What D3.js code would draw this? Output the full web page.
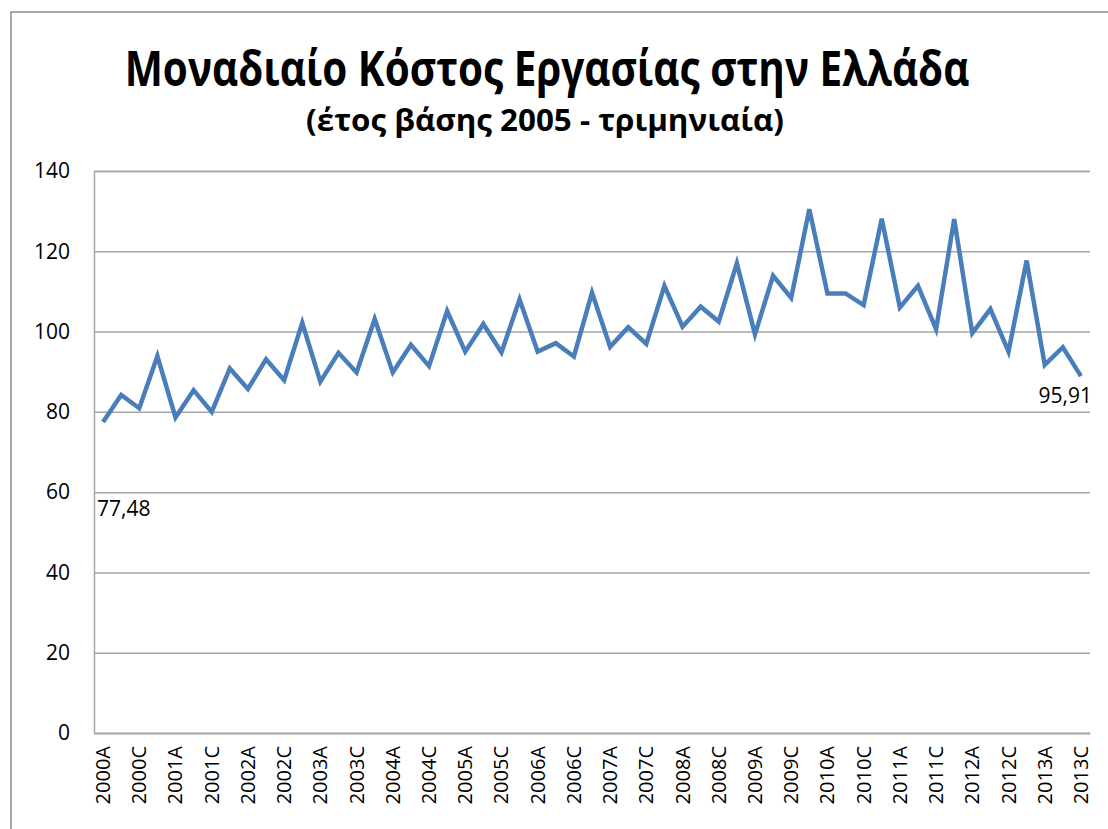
<!DOCTYPE html>
<html><head><meta charset="UTF-8"><title>Μοναδιαίο Κόστος Εργασίας</title>
<script src="https://cdn.jsdelivr.net/npm/d3@7"></script>
<style>
	body	{ margin:0; background:#fff; }
	svg	{ display:block; font-family:"Open Sans","Noto Sans",sans-serif; }
	.grid line { stroke:#a6a6a6; stroke-width:1.5; }
	.tick text { fill:#000; }
</style>
</head><body>
<svg width="1108" height="829"></svg>
<script>
// quarters 2000A .. 2013C (A,B,C,D)
var years=d3.range(2000,2014), quarters=['A','B','C','D'];
var categories=[];
years.forEach(function(y){ quarters.forEach(function(q){ categories.push(y+q); }); });
categories=categories.slice(0,55);
// index values
var values=[77.48,84.2,80.9,93.9,78.6,85.4,80.0,90.8,85.7,93.1,
	87.9,102.2,87.5,94.7,89.8,103.1,89.8,96.7,91.4,105.1,
	95.0,101.9,94.8,108.0,95.0,97.1,93.8,109.7,96.2,101.1,
	96.9,111.4,101.2,106.2,102.5,117.0,99.3,113.9,108.4,130.5,
	109.5,109.5,106.6,128.1,106.0,111.4,100.6,128.0,99.6,105.6,
	95.0,117.7,91.7,96.1,88.9];
var yTicks=[0,20,40,60,80,100,120,140];
var firstLabel='77,48', lastLabel='95,91';
var title='Μοναδιαίο Κόστος Εργασίας στην Ελλάδα';
var subtitle='(έτος βάσης 2005 - τριμηνιαία)';

var svg=d3.select('svg');
// chart frame
svg.append('rect').attr('x',11).attr('y',12).attr('width',1120).attr('height',840)
	.attr('fill','none').attr('stroke','#8c8c8c').attr('stroke-width',1.5);

var x=d3.scaleBand().domain(categories).range([94,1090]).padding(0);
var y=d3.scaleLinear().domain([0,140]).range([733,171]);
var cx=function(c){ return x(c)+x.bandwidth()/2; };

// horizontal grid + y labels
var ya=svg.append('g').attr('class','grid').attr('transform','translate(94,0)')
	.call(d3.axisLeft(y).tickValues(yTicks).tickSize(-996).tickPadding(24).tickFormat(d3.format('d')))
	.attr('font-family',null).attr('font-size',null);
ya.select('.domain').attr('stroke','#a6a6a6').attr('stroke-width',1.5);
ya.selectAll('text').attr('font-size',21);

// x axis, every second quarter labelled
var xa=svg.append('g').attr('transform','translate(0,733)')
	.call(d3.axisBottom(x).tickValues(categories.filter(function(d,i){return i%2==0;})).tickSize(0))
	.attr('font-family',null).attr('font-size',null);
xa.select('.domain').attr('stroke','#a6a6a6').attr('stroke-width',1.5);
xa.selectAll('text').attr('font-size',20).attr('transform','rotate(-90)')
	.attr('text-anchor','end').attr('dy','0.35em').attr('x',-13).attr('y',0);

// line
var line=d3.line().x(function(d,i){return cx(categories[i]);}).y(function(d){return y(d);});
svg.append('path').datum(values).attr('d',line).attr('fill','none')
	.attr('stroke','#4a7ebb').attr('stroke-width',4.5).attr('stroke-linejoin','miter');

// data labels
svg.append('text').attr('x',cx(categories[0])-6).attr('y',y(values[0])+94)
	.attr('font-size',21).text(firstLabel);
svg.append('text').attr('x',1092).attr('y',y(values[54])+27).attr('text-anchor','end')
	.attr('font-size',21).text(lastLabel);

// titles, squeezed sideways to the narrow look of the original
function squeezed(txt,cxp,by,size,w){
	var t=svg.append('text').attr('text-anchor','middle').attr('font-size',size)
		.attr('font-weight','bold').text(txt);
	var k=w/t.node().getComputedTextLength();
	t.attr('transform','translate('+cxp+','+by+') scale('+k+',1)');
}
squeezed(title,547,86,48,845);
squeezed(subtitle,545,131,31,478);
</script>
</body></html>
